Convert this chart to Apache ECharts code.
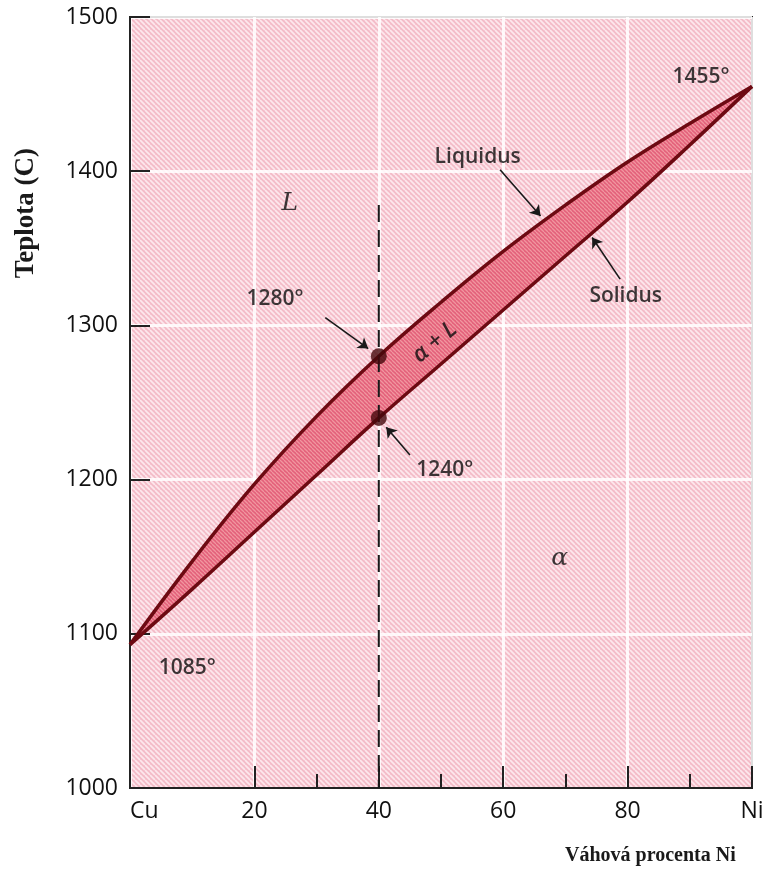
<!DOCTYPE html>
<html>
<head>
<meta charset="utf-8">
<script src="https://cdn.jsdelivr.net/npm/echarts@6/dist/echarts.min.js"></script>
<style>
  html, body { margin: 0; padding: 0; background: #fff; }
  #main { width: 767px; height: 893px; }
</style>
</head>
<body>
<div id="main"></div>
<script>
// Cu-Ni phase diagram
const nickel = [0, 10, 20, 30, 40, 50, 60, 70, 80, 90, 100];
const liquidus = [1093, 1147, 1197, 1241, 1280, 1315, 1348, 1378, 1406, 1431, 1455];
const solidus = [1093, 1129, 1166, 1203, 1240, 1275, 1310, 1345, 1380, 1417, 1455];

const tieLine = [[40, 1378], [40, 1000]];
const tiePoints = [[40, 1280], [40, 1240]];

const yTicks = [1000, 1100, 1200, 1300, 1400, 1500];
const xMinorTicks = [30, 50, 70, 90];

// annotation texts (position in data units)
const noteText = ['1455°', 'Liquidus', 'Solidus', 'L', 'α + L', '1280°', '1240°', '1085°', 'α'];
const noteX = [91.8, 55.9, 79.7, 25.7, 49.0, 23.3, 50.6, 9.2, 69.1];
const noteY = [1461, 1409, 1319, 1379, 1289, 1317, 1206, 1078, 1149];

const arrowFrom = [[59.5, 1401], [78.8, 1330], [31.4, 1305], [45.0, 1216]];
const arrowTo = [[66.0, 1371], [74.3, 1357], [38.3, 1285], [41.2, 1234]];

function hatch(base, stripe, n, w) {
  const c = document.createElement('canvas');
  c.width = n; c.height = n;
  const g = c.getContext('2d');
  g.fillStyle = base;
  g.fillRect(0, 0, n, n);
  g.strokeStyle = stripe;
  g.lineWidth = w;
  [-n, 0, n].forEach(function (o) {
    g.beginPath();
    g.moveTo(o, 0);
    g.lineTo(o + n, n);
    g.stroke();
  });
  return c;
}

const chart = echarts.init(document.getElementById('main'));

const noteData = noteText.map(function (t, i) {
  const item = {
    value: [noteX[i], noteY[i]],
    label: { formatter: t }
  };
  if (t === 'L' || t === 'α') {
    item.label.fontStyle = 'italic';
    item.label.fontWeight = 'normal';
    item.label.fontSize = 25;
    item.label.fontFamily = 'DejaVu Serif';
  }
  if (t === 'α + L') {
    item.label.rotate = 40;
    item.label.fontStyle = 'italic';
    item.label.fontSize = 23;
  }
  return item;
});

chart.setOption({
  animation: false,
  backgroundColor: '#ffffff',
  grid: {
    left: 130, right: 15, top: 17, bottom: 105,
    outerBoundsMode: 'none',
    containLabel: false,
    show: true,
    borderColor: '#222',
    borderWidth: 2,
    backgroundColor: { image: hatch('#f4bcc8', '#fde8ed', 5, 1.7), repeat: 'repeat' }
  },
  xAxis: [{
    type: 'value', min: 0, max: 100, interval: 20,
    axisLine: { show: true, lineStyle: { color: '#222', width: 2 } },
    axisTick: { inside: true, length: 22, lineStyle: { color: '#222', width: 2 } },
    axisLabel: {
      color: '#111', fontSize: 23, fontFamily: 'Open Sans', margin: 12,
      alignMinLabel: 'left', alignMaxLabel: 'center',
      formatter: function (v) { return v === 0 ? 'Cu' : (v === 100 ? 'Ni' : String(v)); }
    },
    splitLine: { show: true, lineStyle: { color: 'rgba(255,255,255,0.85)', width: 3 } }
  }, {
    type: 'value', min: 0, max: 100, position: 'bottom',
    axisLine: { show: false },
    axisTick: { show: true, inside: true, length: 14, customValues: xMinorTicks, lineStyle: { color: '#222', width: 2 } },
    axisLabel: { show: false },
    splitLine: { show: false }
  }],
  yAxis: {
    type: 'value', min: 1000, max: 1500, interval: 100,
    axisLine: { show: true, lineStyle: { color: '#222', width: 2 } },
    axisTick: { inside: true, length: 20, lineStyle: { color: '#222', width: 2 } },
    axisLabel: {
      color: '#111', fontSize: 23, fontFamily: 'Open Sans', margin: 12,
      customValues: yTicks,
      formatter: function (v) { return String(v); }
    },
    splitLine: { show: true, lineStyle: { color: 'rgba(255,255,255,0.85)', width: 3 } }
  },
  graphic: [{
    type: 'text', left: 13, top: 148, rotation: Math.PI / 2,
    style: { text: 'Teplota (C)', fill: '#1a1a1a', font: 'bold 27px "Liberation Serif"' }
  }, {
    type: 'text', left: 565, top: 846,
    style: { text: 'Váhová procenta Ni', fill: '#1a1a1a', font: 'bold 20px "Liberation Serif"' }
  }],
  series: [{
    // two-phase band
    type: 'custom',
    z: 1,
    silent: true,
    data: [[0, liquidus[0]]],
    renderItem: function (params, api) {
      const pts = [];
      nickel.forEach(function (x, i) { pts.push(api.coord([x, liquidus[i]])); });
      for (let i = nickel.length - 1; i >= 0; i--) pts.push(api.coord([nickel[i], solidus[i]]));
      return {
        type: 'polygon',
        shape: { points: pts },
        style: { fill: { image: hatch('#e3607a', '#f1969f', 4, 1.3), repeat: 'repeat' } }
      };
    }
  }, {
    name: 'Liquidus', type: 'line', z: 3, smooth: 0.4, symbol: 'none',
    data: nickel.map(function (x, i) { return [x, liquidus[i]]; }),
    lineStyle: { color: '#6d0a12', width: 3.5 }
  }, {
    name: 'Solidus', type: 'line', z: 3, smooth: 0.4, symbol: 'none',
    data: nickel.map(function (x, i) { return [x, solidus[i]]; }),
    lineStyle: { color: '#6d0a12', width: 3.5 }
  }, {
    type: 'line', z: 4, symbol: 'none',
    data: tieLine,
    lineStyle: { color: '#1a1a1a', width: 2, type: [17, 8] }
  }, {
    type: 'scatter', z: 5, symbolSize: 16,
    data: tiePoints,
    itemStyle: { color: '#45070b' }
  }, {
    type: 'scatter', z: 6, symbolSize: 0, silent: true,
    data: noteData,
    label: {
      show: true, position: 'inside', color: '#0d0d0d',
      fontSize: 21, fontWeight: 600, fontFamily: 'Open Sans'
    },
    markLine: {
      silent: true,
      symbol: ['none', 'arrow'],
      symbolSize: 10,
      label: { show: false },
      lineStyle: { color: '#1a1a1a', width: 1.6, type: 'solid' },
      data: arrowFrom.map(function (a, i) {
        return [{ coord: a }, { coord: arrowTo[i] }];
      })
    }
  }]
});
</script>
</body>
</html>
